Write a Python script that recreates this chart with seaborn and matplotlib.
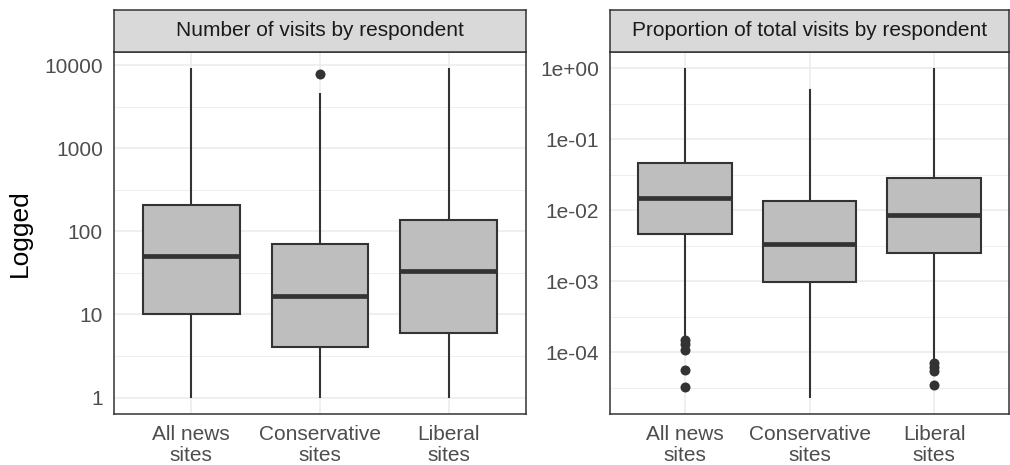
import numpy as np
import pandas as pd
import matplotlib
matplotlib.use("Agg")
import matplotlib.pyplot as plt
import seaborn as sns
from matplotlib.ticker import FixedLocator, FixedFormatter, NullFormatter

# ---------------- data ----------------
categories = ["All news\nsites", "Conservative\nsites", "Liberal\nsites"]
panel_titles = ["Number of visits by respondent",
                "Proportion of total visits by respondent"]
y_label = "Logged"

# Panel 1: number of visits
visits_whisker_lo = [1.0, 1.0, 1.0]
visits_q1 = [10.0, 4.05, 6.06]
visits_median = [50.3, 16.7, 33.4]
visits_q3 = [210.0, 71.0, 138.0]
visits_whisker_hi = [9100.0, 4640.0, 9100.0]
visits_outliers = [[], [7800.0], []]
visits_ticks = [1, 10, 100, 1000, 10000]
visits_tick_labels = ["1", "10", "100", "1000", "10000"]

# Panel 2: proportion of total visits
prop_whisker_lo = [1.66e-4, 2.31e-5, 8.1e-5]
prop_q1 = [0.00467, 0.00099, 0.00255]
prop_median = [0.0151, 0.00333, 0.00867]
prop_q3 = [0.0464, 0.0135, 0.0285]
prop_whisker_hi = [1.0, 0.52, 1.0]
prop_outliers = [[1.49e-4, 1.31e-4, 1.09e-4, 5.6e-5, 3.3e-5],
                 [],
                 [7.1e-5, 6.3e-5, 5.5e-5, 3.5e-5]]
prop_ticks = [1e0, 1e-1, 1e-2, 1e-3, 1e-4]
prop_tick_labels = ["1e+00", "1e-01", "1e-02", "1e-03", "1e-04"]

# ---------------- style ----------------
sns.set_style("white")
plt.rcParams["font.family"] = ["Liberation Sans", "DejaVu Sans"]

DARK = "#333333"
GRID = "#EBEBEB"
FILL = "#BEBEBE"
TICKCOL = "#4D4D4D"


def box_frame(lo, q1, med, q3, hi):
    rows = []
    for c, a, b, m, d, e in zip(categories, lo, q1, med, q3, hi):
        for v in [a, b, b, b, m, d, d, d, e]:
            rows.append((c, v))
    return pd.DataFrame(rows, columns=["cat", "val"])


def outlier_frame(outs):
    rows = [(c, v) for c, vals in zip(categories, outs) for v in vals]
    return pd.DataFrame(rows, columns=["cat", "val"])


W, H = 1010, 465
fig = plt.figure(figsize=(W / 100, H / 100), dpi=100)

panels = [
    dict(left=114, right=526,
         df=box_frame(visits_whisker_lo, visits_q1, visits_median, visits_q3, visits_whisker_hi),
         out=outlier_frame(visits_outliers), ticks=visits_ticks, labels=visits_tick_labels,
         title=panel_titles[0], ylabel=y_label),
    dict(left=610, right=1009,
         df=box_frame(prop_whisker_lo, prop_q1, prop_median, prop_q3, prop_whisker_hi),
         out=outlier_frame(prop_outliers), ticks=prop_ticks, labels=prop_tick_labels,
         title=panel_titles[1], ylabel=None),
]

top_px, bot_px, strip_top_px = 52, 414, 10

for p in panels:
    ax = fig.add_axes([p["left"] / W, 1 - bot_px / H,
                       (p["right"] - p["left"]) / W, (bot_px - top_px) / H])
    sns.boxplot(data=p["df"], x="cat", y="val", order=categories, ax=ax,
                log_scale=True, width=0.75, color=FILL, saturation=1,
                linecolor=DARK, linewidth=1.5, whis=np.inf, showcaps=False,
                fliersize=0,
                medianprops=dict(color=DARK, linewidth=3.4),
                whiskerprops=dict(color=DARK, linewidth=1.5))
    if len(p["out"]):
        sns.stripplot(data=p["out"], x="cat", y="val", order=categories, ax=ax,
                      log_scale=True, jitter=False, color=DARK, size=7.2,
                      linewidth=0)

    # ggplot-like expansion of the data range (5% in log space)
    allv = np.log10(np.concatenate([p["df"]["val"].values, p["out"]["val"].values]))
    lo, hi = allv.min(), allv.max()
    r = hi - lo
    ax.set_ylim(10 ** (lo - 0.05 * r), 10 ** (hi + 0.05 * r))
    ax.set_xlim(-0.6, len(categories) - 1 + 0.6)

    ax.yaxis.set_major_locator(FixedLocator(p["ticks"]))
    ax.yaxis.set_major_formatter(FixedFormatter(p["labels"]))
    minors = 10 ** (np.arange(np.floor(lo) - 1, np.ceil(hi) + 1) + 0.5)
    ax.yaxis.set_minor_locator(FixedLocator(minors))
    ax.yaxis.set_minor_formatter(NullFormatter())

    ax.set_axisbelow(True)
    ax.grid(True, which="major", axis="both", color=GRID, linewidth=1.1)
    ax.grid(True, which="minor", axis="y", color=GRID, linewidth=0.6)
    ax.tick_params(axis="both", which="major", length=3.8, width=1.1,
                   color=DARK, labelcolor=TICKCOL, labelsize=15, pad=4.2)
    ax.tick_params(axis="y", which="minor", length=0)
    for lab in ax.get_xticklabels():
        lab.set_linespacing(1.15)
    for s in ax.spines.values():
        s.set_color(DARK)
        s.set_linewidth(1.1)
    ax.set_xlabel("")
    if p["ylabel"]:
        ax.set_ylabel(p["ylabel"], fontsize=19, color="black")
        ax.yaxis.set_label_coords((32 - p["left"]) / (p["right"] - p["left"]), 0.5)
    else:
        ax.set_ylabel("")

    # strip (facet label)
    sax = fig.add_axes([p["left"] / W, 1 - top_px / H,
                        (p["right"] - p["left"]) / W, (top_px - strip_top_px) / H])
    sax.set_facecolor("#D9D9D9")
    sax.set_xticks([])
    sax.set_yticks([])
    for s in sax.spines.values():
        s.set_color(DARK)
        s.set_linewidth(1.1)
    sax.text(0.5, 0.5, p["title"], ha="center", va="center", fontsize=15,
             color="#1A1A1A", transform=sax.transAxes)

fig.savefig("out.png", dpi=100)
